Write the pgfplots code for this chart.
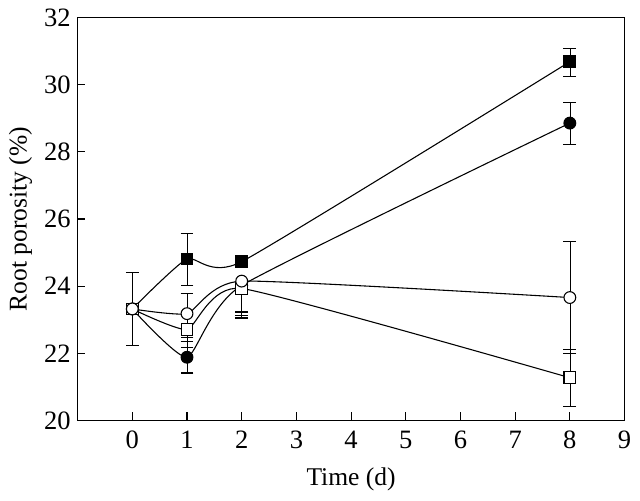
\documentclass[border=0pt]{standalone}
\usepackage{pgfplots}
\pgfplotsset{compat=1.18}
\usepackage{fontspec}
\setmainfont{Liberation Serif}
\begin{document}
\fontsize{27}{32}\selectfont
\begin{tikzpicture}
\begin{axis}[
  width=557pt, height=410pt, scale only axis,
  xmin=-1, xmax=9, ymin=20, ymax=32,
  xtick={0,...,9}, ytick={20,22,...,32},
  tick align=inside, tick pos=left, major tick length=8pt,
  axis line style={line width=1.1pt},
  every tick/.style={line width=1.1pt, black},
  /pgf/number format/assume math mode=true,
  tick label style={font=\fontsize{27}{32}\selectfont},
  xticklabel style={yshift=-2pt},
  yticklabel style={xshift=2pt},
  label style={font=\fontsize{26}{31}\selectfont},
  xlabel style={yshift=-1pt},
  ylabel style={yshift=-6pt},
  xlabel={Time (d)}, ylabel={Root porosity (\%)},
  every axis plot/.append style={black, line width=1.1pt, smooth, tension=0.3},
  error bars/y dir=both, error bars/y explicit,
  error bars/error mark options={rotate=90, mark size=6.5pt, line width=1.1pt, black},
]
% filled square
\addplot[mark=square*, mark size=6pt, mark options={fill=black, solid}] coordinates {
  (0,23.32)
  (1,24.81) += (0,0.75) -= (0,0.78)
  (2,24.73)
  (8,30.69) += (0,0.40) -= (0,0.45)
};
% filled circle
\addplot[mark=*, mark size=6pt, mark options={fill=black, solid}] coordinates {
  (0,23.32)
  (1,21.88) += (0,0.46) -= (0,0.47)
  (2,24.02) += (0,0) -= (0,0.97)
  (8,28.86) += (0,0.60) -= (0,0.64)
};
% open square
\addplot[mark=square*, mark size=6pt, mark options={fill=white, solid}] coordinates {
  (0,23.32) +- (0,1.08)
  (1,22.71) += (0,0) -= (0,0.53)
  (2,23.93) += (0,0) -= (0,0.80)
  (8,21.27) +- (0,0.85)
};
% open circle
\addplot[mark=*, mark size=6pt, mark options={fill=white, solid}] coordinates {
  (0,23.32)
  (1,23.18) += (0,0.60) -= (0,0.71)
  (2,24.15) += (0,0) -= (0,0.92)
  (8,23.66) +- (0,1.67)
};
\end{axis}
\end{tikzpicture}
\end{document}
